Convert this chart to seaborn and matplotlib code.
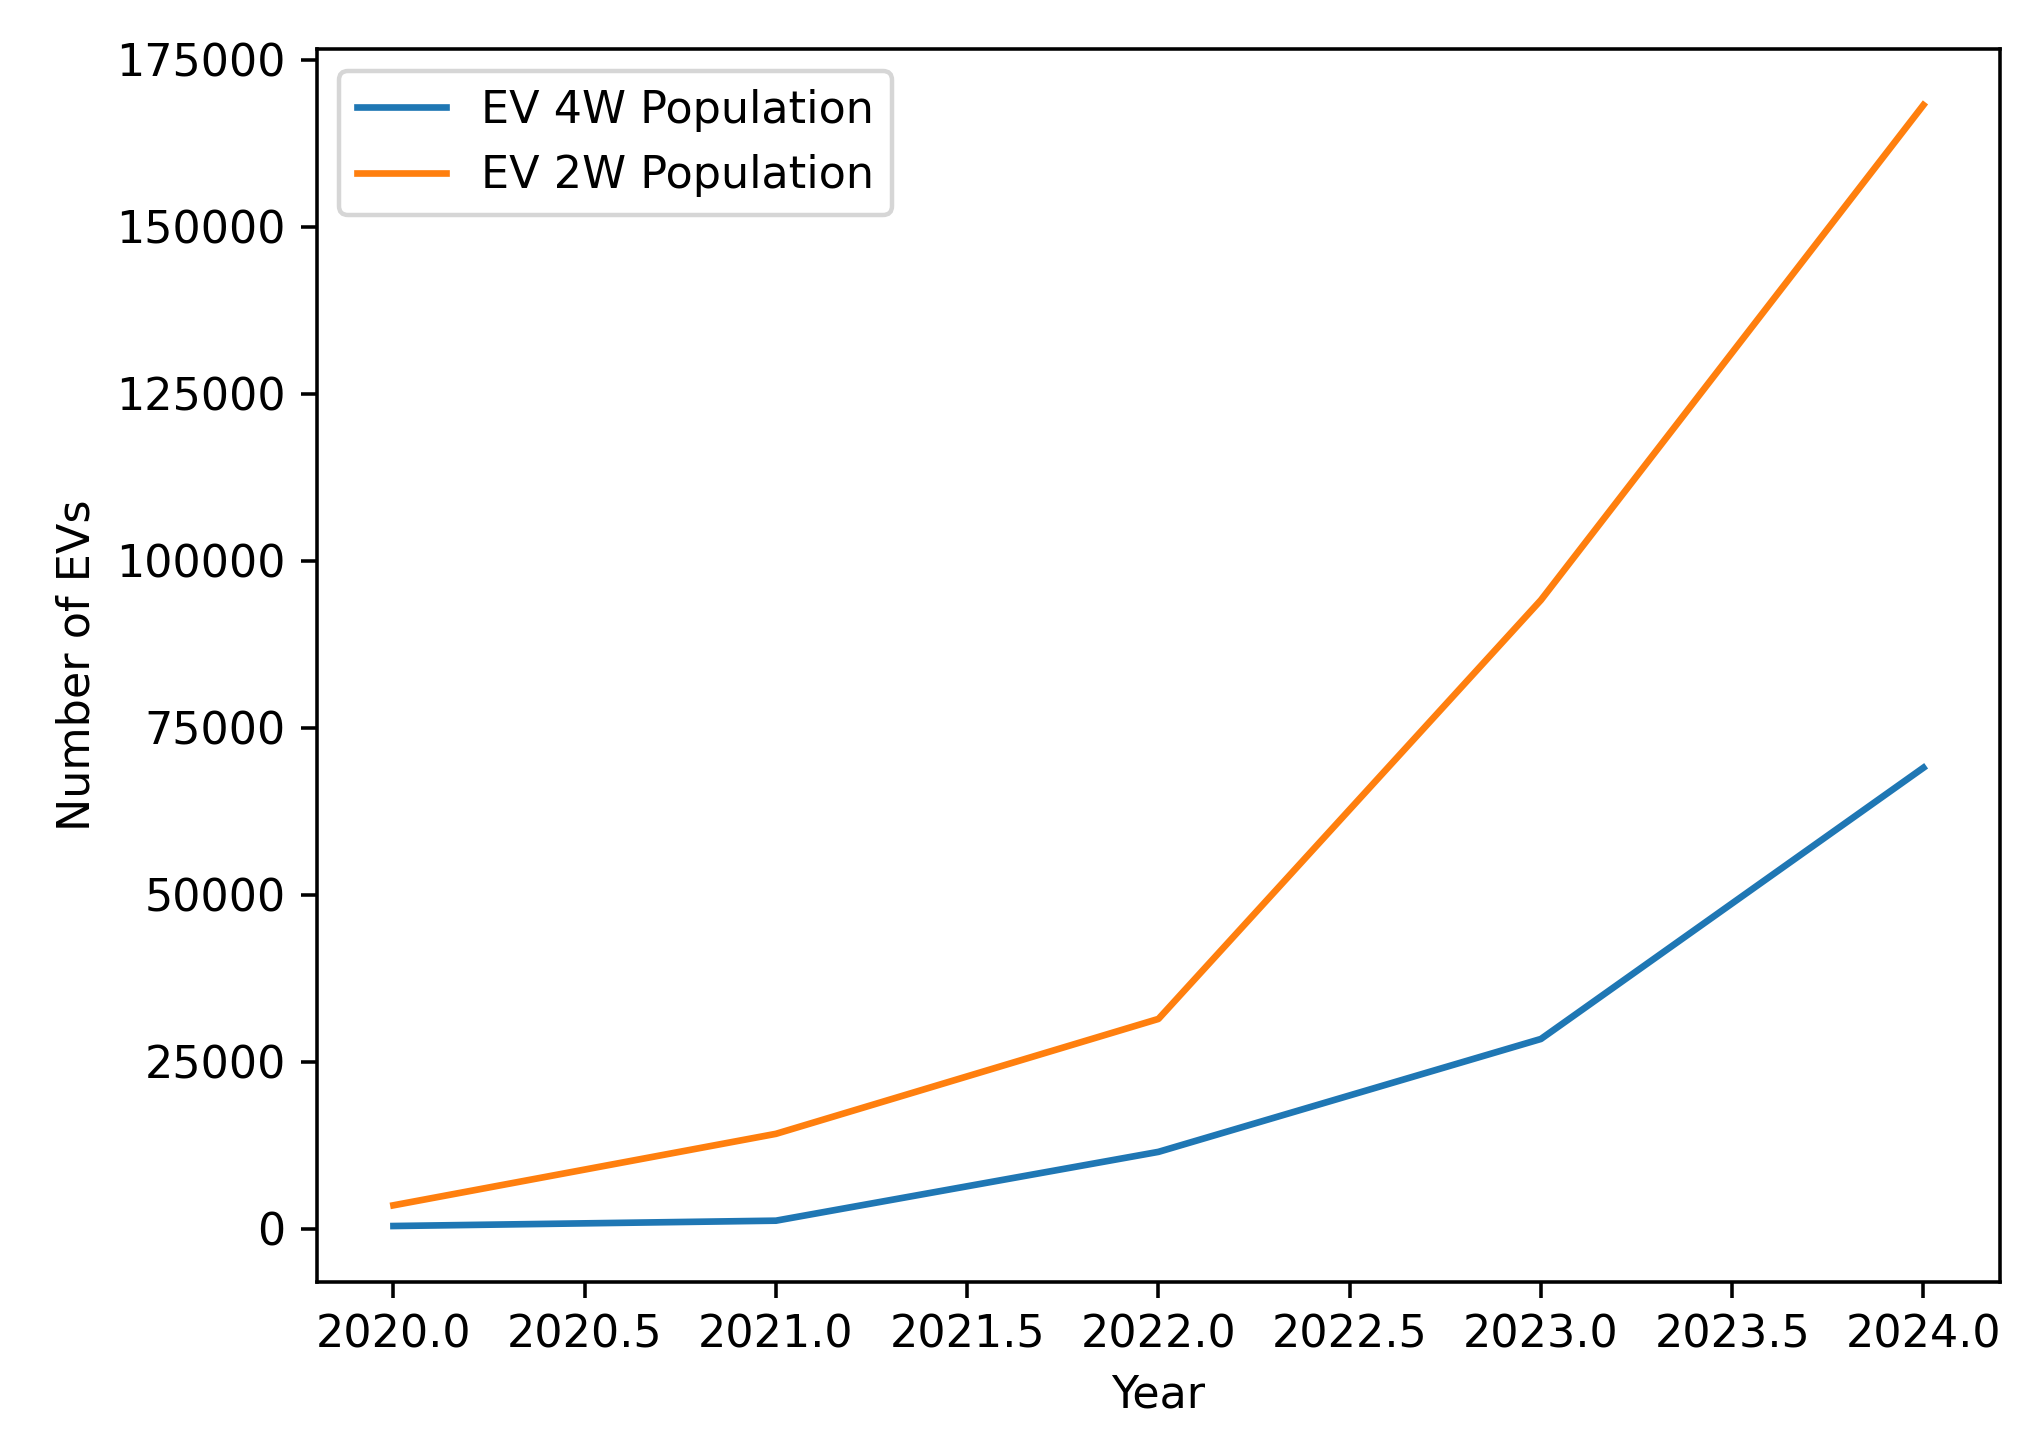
import pandas as pd
import matplotlib.pyplot as plt
import seaborn as sns

# Values
years = [2020, 2021, 2022, 2023, 2024]
ev_4w = [400, 1200, 11500, 28400, 69000]
ev_2w = [3500, 14200, 31400, 94100, 168200]

data = pd.DataFrame({'Year': years, 'EV 4W': ev_4w, 'EV 2W': ev_2w})

fig, ax = plt.subplots(figsize=(2037 / 320, 1432 / 320), dpi=320)
fig.subplots_adjust(left=0.1556, right=0.9818, top=0.9658, bottom=0.1047)

sns.lineplot(x='Year', y='EV 4W', data=data, label='EV 4W Population', color='#1f77b4', ax=ax)
sns.lineplot(x='Year', y='EV 2W', data=data, label='EV 2W Population', color='#ff7f0e', ax=ax)

ax.set_xlabel('Year')
ax.set_ylabel('Number of EVs')
ax.legend(loc='upper left')

plt.savefig('out.png', dpi=320)
